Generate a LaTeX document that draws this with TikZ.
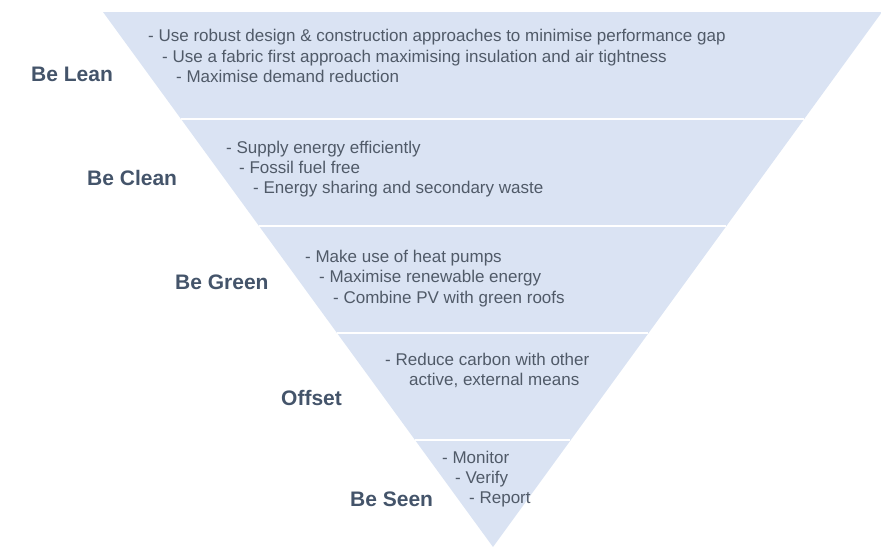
\documentclass[tikz,border=0pt]{standalone}
\usepackage{fontspec}
\setmainfont{Liberation Sans}
\definecolor{bandfill}{HTML}{DAE3F3}
\definecolor{labelcol}{HTML}{44546A}
\definecolor{textcol}{HTML}{505A68}
\begin{document}
\begin{tikzpicture}[x=1pt,y=-1pt,
  lab/.style={anchor=base west,inner sep=0pt,text=labelcol,font=\fontsize{21}{25}\selectfont\bfseries},
  item/.style={anchor=base west,inner sep=0pt,text=textcol,font=\fontsize{17}{20}\selectfont},
  sep/.style={draw=white,line width=2pt}]
\useasboundingbox (0,0) rectangle (881,547);
\coordinate (TL) at (103,12);
\coordinate (TR) at (882,12);
\coordinate (AP) at (493,547);
\fill[bandfill] (TL) -- (TR) -- (AP) -- cycle;
% separators
\coordinate (s1l) at (181,119); \coordinate (s1r) at (804,119);
\coordinate (s2l) at (259,226); \coordinate (s2r) at (726,226);
\coordinate (s3l) at (337,333); \coordinate (s3r) at (648,333);
\coordinate (s4l) at (415,440); \coordinate (s4r) at (570,440);
\draw[sep] (s1l) -- (s1r);
\draw[sep] (s2l) -- (s2r);
\draw[sep] (s3l) -- (s3r);
\draw[sep] (s4l) -- (s4r);
% labels
\node[lab] (lean) at (31,81) {Be Lean};
\node[lab] (clean) at (87,185) {Be Clean};
\node[lab] (green) at (175,289) {Be Green};
\node[lab] (offset) at (281,405) {Offset};
\node[lab] (seen) at (350,506) {Be Seen};
% band 1
\node[item] (a1) at (148,41) {- Use robust design \& construction approaches to minimise performance gap};
\node[item] (a2) at (162,62) {- Use a fabric first approach maximising insulation and air tightness};
\node[item] (a3) at (176,82) {- Maximise demand reduction};
% band 2
\node[item] (b1) at (226,153) {- Supply energy efficiently};
\node[item] (b2) at (239,173) {- Fossil fuel free};
\node[item] (b3) at (253,193) {- Energy sharing and secondary waste};
% band 3
\node[item] (c1) at (305,262) {- Make use of heat pumps};
\node[item] (c2) at (319,282) {- Maximise renewable energy};
\node[item] (c3) at (333,303) {- Combine PV with green roofs};
% band 4
\node[item] (d1) at (385,365) {- Reduce carbon with other};
\node[item] (d2) at (409,385) {active, external means};
% band 5
\node[item] (e1) at (442,463) {- Monitor};
\node[item] (e2) at (455,483) {- Verify};
\node[item] (e3) at (469,503) {- Report};
\end{tikzpicture}
\end{document}
